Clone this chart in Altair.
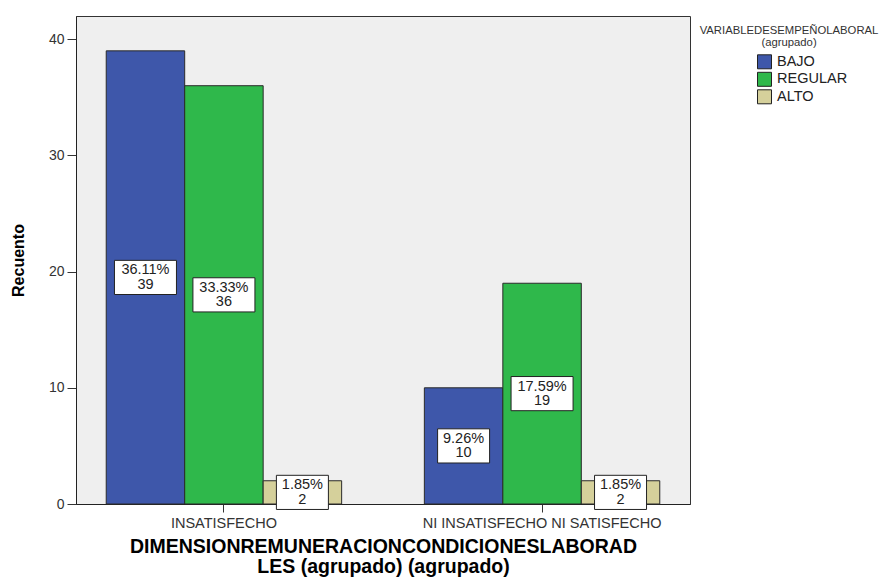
import altair as alt
import pandas as pd

# Recuento por categoría de la dimensión y nivel de desempeño laboral
categories = ["INSATISFECHO", "NI INSATISFECHO NI SATISFECHO"]
groups = ["BAJO", "REGULAR", "ALTO"]
bajo = [39, 10]
regular = [36, 19]
alto = [2, 2]
colors = ["#3e57aa", "#2fb84b", "#d5d09b"]

rows = []
for i, cat in enumerate(categories):
    for g, vals in zip(groups, [bajo, regular, alto]):
        rows.append({"cat": cat, "grupo": g, "n": vals[i]})
df = pd.DataFrame(rows)
total = df["n"].sum()
df["pct"] = df["n"].map(lambda v: f"{v / total * 100:.2f}%")
df["etiqueta"] = df["pct"] + "\n" + df["n"].astype(str)
# label box width grows with the length of the percentage text
df["ancho"] = df["pct"].str.len() * 10 + 2

FONT = "Liberation Sans"

x_enc = alt.X(
    "cat:N",
    sort=categories,
    scale=alt.Scale(paddingInner=0.26, paddingOuter=0.095),
    axis=alt.Axis(
        title=["DIMENSIONREMUNERACIONCONDICIONESLABORAD", "LES (agrupado) (agrupado)"],
        labelAngle=0,
        labelFontSize=14.5,
        labelColor="#333333",
        labelPadding=4,
        labelLimit=0,
        tickSize=8,
        tickColor="#333333",
        domainColor="#222222",
        titleFontSize=19.5,
        titleFontWeight="bold",
        titleLineHeight=20,
        titlePadding=8,
        titleColor="#000000",
    ),
)
xo_enc = alt.XOffset("grupo:N", sort=groups, scale=alt.Scale(paddingInner=0, paddingOuter=0))

y_scale = alt.Scale(domain=[0, 42.0], nice=False, zero=False)

bars = alt.Chart(df).mark_bar(stroke="#2a2a2a", strokeWidth=1).encode(
    x=x_enc,
    xOffset=xo_enc,
    y=alt.Y(
        "n:Q",
        scale=y_scale,
        axis=alt.Axis(
            title="Recuento",
            values=[0, 10, 20, 30, 40],
            grid=False,
            labelFontSize=14,
            labelColor="#333333",
            labelPadding=3,
            tickSize=9,
            tickColor="#333333",
            domainColor="#222222",
            titleFontSize=16,
            titleFontWeight="bold",
            titleColor="#000000",
            titlePadding=22,
        ),
    ),
    color=alt.Color(
        "grupo:N",
        sort=groups,
        scale=alt.Scale(domain=groups, range=colors),
        legend=alt.Legend(
            title=["VARIABLEDESEMPEÑOLABORAL", "(agrupado)"],
            orient="none",
            legendX=624,
            legendY=9,
            titleAnchor="middle",
            titleFontSize=11.3,
            titleFontWeight="normal",
            titleColor="#333333",
            titleLineHeight=12,
            titlePadding=6,
            symbolType="square",
            symbolSize=196,
            symbolStrokeColor="#222222",
            symbolStrokeWidth=1,
            symbolOpacity=1,
            symbolOffset=26,
            labelFontSize=14.5,
            labelColor="#222222",
            labelOffset=5,
            rowPadding=-1.5,
            padding=0,
        ),
    ),
)

boxes = (
    alt.Chart(df)
    .transform_calculate(y0="datum.n / 2 - 1.47", y1="datum.n / 2 + 1.47")
    .mark_bar(fill="white", stroke="#222222", strokeWidth=1)
    .encode(
        x=alt.X("cat:N", sort=categories),
        xOffset=xo_enc,
        y=alt.Y("y0:Q", scale=y_scale),
        y2="y1:Q",
        size=alt.Size("ancho:Q", scale=None, legend=None),
    )
)

texts = (
    alt.Chart(df)
    .transform_calculate(ym="datum.n / 2")
    .mark_text(lineBreak="\n", fontSize=14.5, lineHeight=14.5, baseline="middle", dy=-7, color="#222222", font=FONT)
    .encode(
        x=alt.X("cat:N", sort=categories),
        xOffset=xo_enc,
        y=alt.Y("ym:Q", scale=y_scale),
        text="etiqueta:N",
    )
)

chart = (
    alt.layer(bars, boxes, texts)
    .properties(
        width=614,
        height=488,
        autosize=alt.AutoSizeParams(type="none"),
        padding={"left": 76, "top": 16, "right": 193, "bottom": 75},
        background="white",
    )
    .configure_view(fill="#efefef", stroke="#333333", strokeWidth=1)
    .configure_axis(labelFont=FONT, titleFont=FONT)
    .configure_legend(labelFont=FONT, titleFont=FONT)
)

chart.save("out.html", embed_options={"renderer": "svg", "actions": False})
